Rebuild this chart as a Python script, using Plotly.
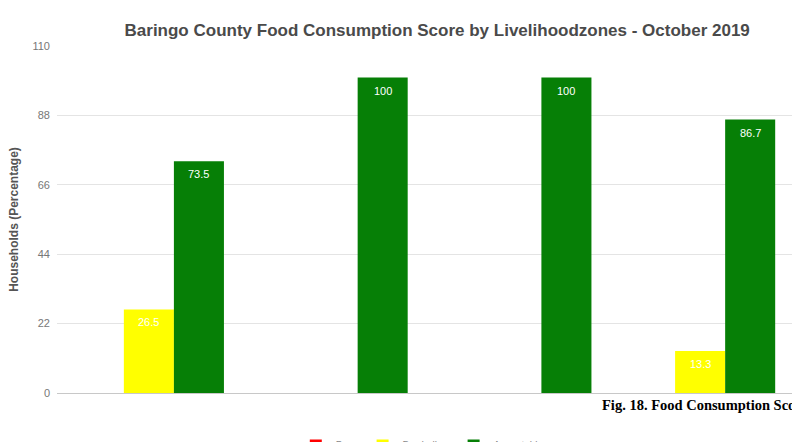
import plotly.graph_objects as go

categories = ["Pastoral", "Agro-pastoral", "Irrigated Cropping", "Mixed Farming"]
poor = [0, 0, 0, 0]
borderline = [26.5, 0, 0, 13.3]
acceptable = [73.5, 100, 100, 86.7]
y_ticks = [0, 22, 44, 66, 88, 110]

series = [("Poor", poor, "#ff0000"),
          ("Borderline", borderline, "#ffff00"),
          ("Acceptable", acceptable, "#067f06")]
BARGAP = 0.183

fig = go.Figure()
for name, vals, color in series:
    fig.add_trace(go.Bar(
        x=list(range(len(categories))), y=vals, name=name, marker_color=color,
        marker_line_width=0, hovertext=categories,
    ))

# value labels inside the top of each bar
n = len(series)
bw = (1 - BARGAP) / n
for k, (name, vals, color) in enumerate(series):
    for i, v in enumerate(vals):
        if v == 0:
            continue
        fig.add_annotation(x=i + (k - (n - 1) / 2) * bw, y=v, xref="x", yref="y",
                           text=f"{v:g}", showarrow=False, yshift=-13,
                           xanchor="center", yanchor="middle",
                           font=dict(color="white", size=11, family="Liberation Sans"))

fig.update_layout(
    width=792, height=442,
    margin=dict(l=57, r=0, t=46, b=49, autoexpand=False),
    paper_bgcolor="white", plot_bgcolor="white",
    barmode="group", bargap=BARGAP, bargroupgap=0,
    title=dict(text="<b>Baringo County Food Consumption Score by Livelihoodzones - October 2019</b>",
               x=0.552, xanchor="center", y=0.933, yanchor="middle",
               font=dict(family="Liberation Sans", size=17, color="#4a4a4a")),
    font=dict(family="Liberation Sans", color="#666666"),
    legend=dict(orientation="h", x=0.497, xanchor="center", y=-0.1095, yanchor="top",
                font=dict(size=10, color="#888888"), itemwidth=30),
    showlegend=True,
)
fig.update_xaxes(tickvals=list(range(len(categories))), ticktext=categories,
                 range=[-0.5, len(categories) - 0.5],
                 showticklabels=False, showgrid=False, showline=False, zeroline=False)
fig.update_yaxes(range=[0, 110], tickvals=y_ticks, ticktext=[str(t) for t in y_ticks],
                 showgrid=True, gridcolor="#e4e4e4", gridwidth=1,
                 zeroline=True, zerolinecolor="#c8c8c8", zerolinewidth=1,
                 tickfont=dict(size=11, color="#777777"), ticklabelstandoff=6,
                 title=dict(text="<b>Households (Percentage)</b>", standoff=11,
                            font=dict(size=12, color="#555555")))

fig.add_annotation(text="<b>Fig. 18. Food Consumption Score</b>", xref="paper", yref="paper",
                   x=(600 - 57) / 735, y=-0.0346, xanchor="left", yanchor="middle",
                   showarrow=False, font=dict(family="Liberation Serif", size=14.5, color="black"))

fig.write_html("out.html")
